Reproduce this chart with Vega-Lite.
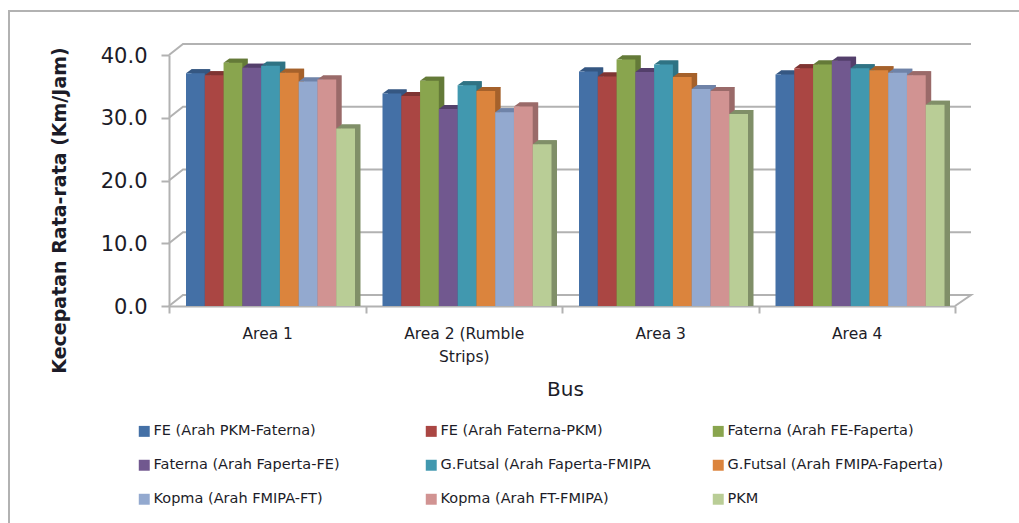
{
  "$schema": "https://vega.github.io/schema/vega-lite/v6.json",
  "width": 786,
  "height": 251,
  "autosize": "none",
  "padding": {"left": 169, "top": 55, "right": 64, "bottom": 217},
  "background": "white",
  "config": {"view": {"stroke": null}, "font": "DejaVu Sans"},
  "datasets": {
    "speeds": [
      {"area": "Area 1", "route": "FE (Arah PKM-Faterna)", "speed": 36.6},
      {"area": "Area 1", "route": "FE (Arah Faterna-PKM)", "speed": 36.3},
      {"area": "Area 1", "route": "Faterna (Arah FE-Faperta)", "speed": 38.3},
      {"area": "Area 1", "route": "Faterna (Arah Faperta-FE)", "speed": 37.5},
      {"area": "Area 1", "route": "G.Futsal (Arah Faperta-FMIPA", "speed": 37.8},
      {"area": "Area 1", "route": "G.Futsal (Arah FMIPA-Faperta)", "speed": 36.7},
      {"area": "Area 1", "route": "Kopma (Arah FMIPA-FT)", "speed": 35.3},
      {"area": "Area 1", "route": "Kopma (Arah FT-FMIPA)", "speed": 35.6},
      {"area": "Area 1", "route": "PKM", "speed": 27.8},
      {"area": "Area 2 (Rumble Strips)", "route": "FE (Arah PKM-Faterna)", "speed": 33.4},
      {"area": "Area 2 (Rumble Strips)", "route": "FE (Arah Faterna-PKM)", "speed": 33.0},
      {"area": "Area 2 (Rumble Strips)", "route": "Faterna (Arah FE-Faperta)", "speed": 35.4},
      {"area": "Area 2 (Rumble Strips)", "route": "Faterna (Arah Faperta-FE)", "speed": 30.9},
      {"area": "Area 2 (Rumble Strips)", "route": "G.Futsal (Arah Faperta-FMIPA", "speed": 34.7},
      {"area": "Area 2 (Rumble Strips)", "route": "G.Futsal (Arah FMIPA-Faperta)", "speed": 33.8},
      {"area": "Area 2 (Rumble Strips)", "route": "Kopma (Arah FMIPA-FT)", "speed": 30.4},
      {"area": "Area 2 (Rumble Strips)", "route": "Kopma (Arah FT-FMIPA)", "speed": 31.3},
      {"area": "Area 2 (Rumble Strips)", "route": "PKM", "speed": 25.3},
      {"area": "Area 3", "route": "FE (Arah PKM-Faterna)", "speed": 36.9},
      {"area": "Area 3", "route": "FE (Arah Faterna-PKM)", "speed": 36.1},
      {"area": "Area 3", "route": "Faterna (Arah FE-Faperta)", "speed": 38.8},
      {"area": "Area 3", "route": "Faterna (Arah Faperta-FE)", "speed": 36.8},
      {"area": "Area 3", "route": "G.Futsal (Arah Faperta-FMIPA", "speed": 38.0},
      {"area": "Area 3", "route": "G.Futsal (Arah FMIPA-Faperta)", "speed": 36.0},
      {"area": "Area 3", "route": "Kopma (Arah FMIPA-FT)", "speed": 34.1},
      {"area": "Area 3", "route": "Kopma (Arah FT-FMIPA)", "speed": 33.8},
      {"area": "Area 3", "route": "PKM", "speed": 30.1},
      {"area": "Area 4", "route": "FE (Arah PKM-Faterna)", "speed": 36.4},
      {"area": "Area 4", "route": "FE (Arah Faterna-PKM)", "speed": 37.4},
      {"area": "Area 4", "route": "Faterna (Arah FE-Faperta)", "speed": 38.0},
      {"area": "Area 4", "route": "Faterna (Arah Faperta-FE)", "speed": 38.6},
      {"area": "Area 4", "route": "G.Futsal (Arah Faperta-FMIPA", "speed": 37.4},
      {"area": "Area 4", "route": "G.Futsal (Arah FMIPA-Faperta)", "speed": 37.1},
      {"area": "Area 4", "route": "Kopma (Arah FMIPA-FT)", "speed": 36.7},
      {"area": "Area 4", "route": "Kopma (Arah FT-FMIPA)", "speed": 36.3},
      {"area": "Area 4", "route": "PKM", "speed": 31.6}
    ],
    "walls": [
      {"edge": "g0", "step": 1, "depth": 0, "level": 0},
      {"edge": "g0", "step": 2, "depth": 14, "level": 1.75},
      {"edge": "g0", "step": 3, "depth": 802, "level": 1.75},
      {"edge": "g0", "step": 4, "depth": 786, "level": 0},
      {"edge": "g10", "step": 1, "depth": 0, "level": 10},
      {"edge": "g10", "step": 2, "depth": 14, "level": 11.75},
      {"edge": "g10", "step": 3, "depth": 802, "level": 11.75},
      {"edge": "g20", "step": 1, "depth": 0, "level": 20},
      {"edge": "g20", "step": 2, "depth": 14, "level": 21.75},
      {"edge": "g20", "step": 3, "depth": 802, "level": 21.75},
      {"edge": "g30", "step": 1, "depth": 0, "level": 30},
      {"edge": "g30", "step": 2, "depth": 14, "level": 31.75},
      {"edge": "g30", "step": 3, "depth": 802, "level": 31.75},
      {"edge": "g40", "step": 1, "depth": 0, "level": 40},
      {"edge": "g40", "step": 2, "depth": 14, "level": 41.75},
      {"edge": "g40", "step": 3, "depth": 802, "level": 41.75},
      {"edge": "frame", "step": 1, "depth": -160, "level": -35},
      {"edge": "frame", "step": 2, "depth": -160, "level": 47},
      {"edge": "frame", "step": 3, "depth": 900, "level": 47}
    ]
  },
  "layer": [
    {
      "description": "Chart frame, back wall, side wall and floor lines",
      "data": {"name": "walls"},
      "mark": {"type": "line", "color": "#B2B2B2", "strokeWidth": 2, "interpolate": "linear"},
      "encoding": {
        "x": {"field": "depth", "type": "quantitative", "scale": {"domain": [0, 786], "nice": false, "zero": false}, "axis": null},
        "y": {
          "field": "level",
          "type": "quantitative",
          "scale": {"domain": [0, 40], "nice": false},
          "axis": {
            "values": [0, 10, 20, 30, 40],
            "format": ".1f",
            "title": "Kecepatan Rata-rata (Km/Jam)",
            "titleFont": "DejaVu Sans",
            "titleFontSize": 19,
            "titleFontWeight": 600,
            "titleColor": "#1c1c28",
            "titleX": -100,
            "titleY": 155,
            "titleAnchor": "middle",
            "labelFontSize": 21,
            "labelColor": "#1c1c28",
            "labelPadding": 14,
            "labelOffset": 1,
            "tickColor": "#B2B2B2",
            "tickWidth": 2,
            "tickSize": 8,
            "domainColor": "#B2B2B2",
            "domainWidth": 2,
            "grid": false
          }
        },
        "detail": {"field": "edge"},
        "order": {"field": "step", "type": "ordinal"}
      }
    },
    {
      "description": "Right-hand side faces of the columns",
      "data": {"name": "speeds"},
      "mark": {"type": "bar", "yOffset": -7, "y2Offset": -7},
      "encoding": {
        "x": {"field": "area", "type": "nominal", "scale": {"paddingInner": 0, "paddingOuter": 0}, "axis": null},
        "xOffset": {
          "field": "route",
          "sort": null,
          "scale": {"range": [22.5, 191.5], "paddingInner": 0, "paddingOuter": 0}
        },
        "y": {"field": "speed", "type": "quantitative", "stack": null, "axis": null},
        "color": {
          "field": "route",
          "legend": null,
          "sort": null,
          "scale": {"range": ["#355782", "#7F3432", "#647A38", "#533F6B", "#2F7384", "#A5612B", "#6F83A8", "#9A6A69", "#808F68"]}
        }
      }
    },
    {
      "description": "Top faces of the columns",
      "data": {"name": "speeds"},
      "mark": {
        "type": "point",
        "filled": true,
        "opacity": 1,
        "size": 4,
        "strokeWidth": 0,
        "yOffset": -3,
        "shape": "M-9.4 0L9.4 0L14.9 -4L-3.9 -4Z"
      },
      "encoding": {
        "x": {"field": "area", "type": "nominal", "scale": {"type": "band", "paddingInner": 0, "paddingOuter": 0}, "axis": null},
        "xOffset": {
          "field": "route",
          "sort": null,
          "scale": {"type": "band", "range": [17, 186], "paddingInner": 0, "paddingOuter": 0}
        },
        "y": {"field": "speed", "type": "quantitative", "axis": null},
        "color": {
          "field": "route",
          "legend": null,
          "sort": null,
          "scale": {"range": ["#355782", "#7F3432", "#647A38", "#533F6B", "#2F7384", "#A5612B", "#6F83A8", "#9A6A69", "#808F68"]}
        }
      }
    },
    {
      "description": "Front faces of the columns, with the category axis and route legend",
      "data": {"name": "speeds"},
      "mark": {"type": "bar", "yOffset": -3, "y2Offset": -3},
      "encoding": {
        "x": {
          "field": "area",
          "type": "nominal",
          "scale": {"paddingInner": 0, "paddingOuter": 0},
          "axis": {
            "title": "Bus",
            "titleFontSize": 20,
            "titleFontWeight": 500,
            "titleColor": "#1c1c28",
            "titleX": 396,
            "titleY": 83,
            "titleBaseline": "middle",
            "labelAngle": 0,
            "labelFontSize": 15.5,
            "labelColor": "#1c1c28",
            "labelPadding": 13,
            "labelLineHeight": 23,
            "labelExpr": "datum.value == 'Area 2 (Rumble Strips)' ? ['Area 2 (Rumble', 'Strips)'] : datum.value",
            "tickBand": "extent",
            "tickColor": "#B2B2B2",
            "tickWidth": 2,
            "tickSize": 7,
            "domainColor": "#B2B2B2",
            "domainWidth": 2,
            "grid": false
          }
        },
        "xOffset": {
          "field": "route",
          "sort": null,
          "scale": {"range": [17, 186], "paddingInner": 0, "paddingOuter": 0}
        },
        "y": {"field": "speed", "type": "quantitative", "stack": null, "axis": null},
        "color": {
          "field": "route",
          "sort": null,
          "scale": {"range": ["#4470A6", "#AA4643", "#89A54E", "#71588F", "#4198AF", "#DB843D", "#93A9CF", "#D19392", "#B9CD96"]},
          "legend": {
            "title": null,
            "orient": "none",
            "direction": "horizontal",
            "columns": 3,
            "legendX": -32,
            "legendY": 369,
            "gridAlign": "all",
            "columnPadding": 54,
            "rowPadding": 19,
            "symbolType": "square",
            "symbolSize": 120,
            "symbolStrokeWidth": 0,
            "labelFontSize": 14.5,
            "labelColor": "#1c1c28",
            "labelOffset": 2,
            "labelLimit": 300
          }
        }
      }
    }
  ],
  "resolve": {
    "scale": {"x": "independent", "xOffset": "independent", "color": "independent"},
    "axis": {"x": "independent", "y": "independent"}
  }
}
